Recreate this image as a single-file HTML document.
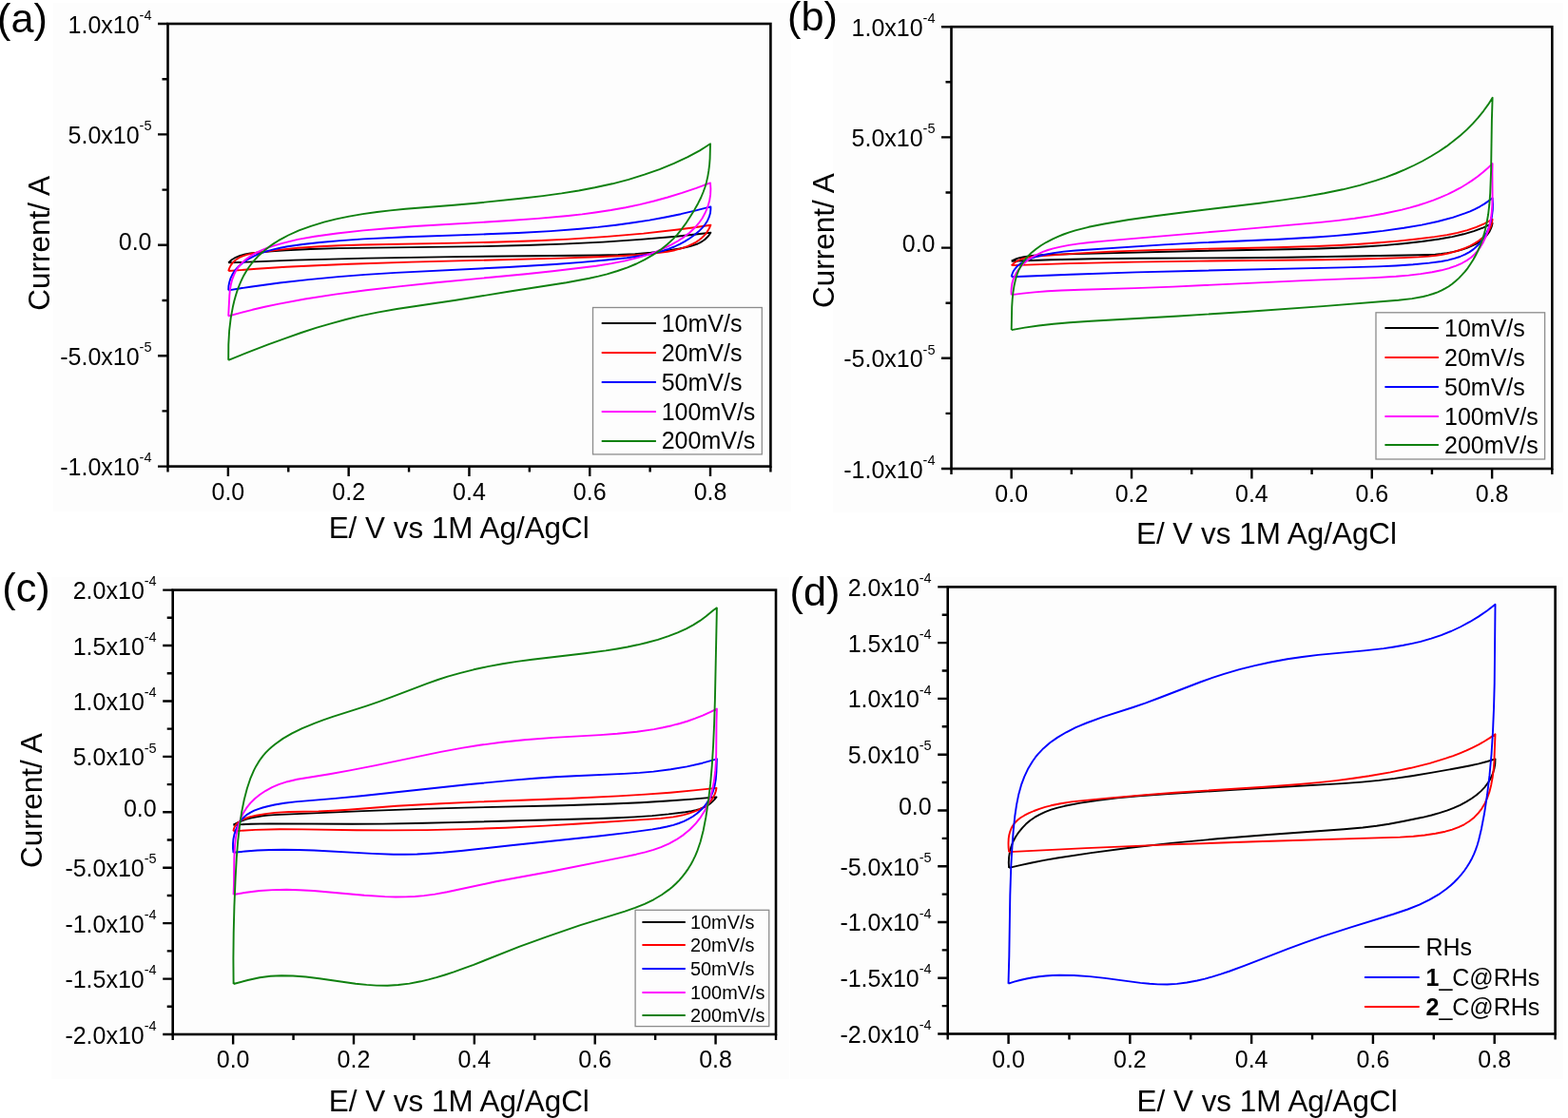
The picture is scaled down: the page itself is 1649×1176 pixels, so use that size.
<!DOCTYPE html>
<html><head><meta charset="utf-8"><title>Cyclic voltammetry</title>
<style>html,body{margin:0;padding:0;background:#fff;overflow:hidden}svg{display:block}</style>
</head><body>
<svg width="1649" height="1176" viewBox="0 0 1649 1176" font-family='"Liberation Sans", Arial, sans-serif' fill="#000">
<rect width="1649" height="1176" fill="#ffffff"/>
<rect x="56" y="3" width="776" height="535" fill="#fdfdfd"/>
<rect x="876" y="3" width="768" height="536" fill="#fdfdfd"/>
<rect x="54" y="607" width="776" height="528" fill="#fdfdfd"/>
<rect x="831" y="607" width="813" height="528" fill="#fdfdfd"/>
<path d="M240.2,276.4 243.7,273.3 247.8,270.8 252.5,268.8 257.8,267.4 263.1,266.5 271.0,265.6 285.6,264.4 300.6,263.3 326.5,262.0 355.8,261.1 507.9,259.1 552.3,258.0 592.2,256.6 634.1,254.6 673.6,251.9 711.1,248.7 747.4,244.8 745.7,247.3 743.5,249.8 741.5,251.7 739.0,253.5 736.4,255.1 733.6,256.5 730.4,257.7 726.6,258.9 721.7,260.1 714.7,261.5 699.8,264.0 684.4,265.8 667.7,267.1 650.0,268.0 629.5,268.5 476.9,270.1 385.4,271.6 309.5,273.6 240.2,276.4" stroke="#000000" stroke-width="1.9" fill="none" stroke-linejoin="round"/>
<path d="M240.2,285.0 241.2,282.1 242.7,279.1 244.5,276.6 246.9,274.2 249.6,272.2 252.5,270.5 256.0,269.1 259.7,267.9 264.3,266.8 270.3,265.8 292.8,262.9 313.6,260.8 336.0,259.3 357.2,258.2 381.6,257.5 480.4,255.6 525.7,254.5 563.3,253.2 597.7,251.6 638.5,248.9 676.7,245.6 712.9,241.5 730.4,239.2 747.4,236.7 746.1,239.8 744.5,242.6 742.7,245.3 740.4,248.0 737.8,250.4 735.1,252.6 731.8,254.8 728.3,256.7 722.8,259.1 716.4,261.4 709.6,263.2 701.9,264.7 693.7,265.9 683.9,266.9 670.1,268.1 655.3,269.0 628.3,270.3 589.5,271.6 432.4,275.6 367.4,277.7 333.1,279.2 300.7,280.8 269.9,282.8 240.2,285.0" stroke="#ff0000" stroke-width="1.9" fill="none" stroke-linejoin="round"/>
<path d="M240.2,305.4 240.4,301.0 241.2,297.0 242.3,293.2 244.1,289.3 246.2,285.7 249.1,282.2 252.3,279.0 255.9,276.1 260.0,273.2 264.8,270.6 269.8,268.2 275.3,266.0 281.1,264.1 287.5,262.4 294.7,260.8 302.5,259.3 318.3,257.0 336.2,255.0 357.9,253.1 382.1,251.4 427.6,249.2 511.8,246.3 545.1,245.0 579.1,243.1 609.9,240.7 629.0,238.9 647.7,236.7 665.5,234.3 682.9,231.6 699.8,228.5 715.9,225.2 731.9,221.4 747.4,217.4 747.4,219.9 747.0,224.0 745.8,228.2 744.0,232.2 741.7,235.8 738.6,239.6 734.9,243.3 730.5,246.9 725.3,250.7 720.3,253.9 714.8,256.8 709.1,259.5 702.9,261.9 696.6,264.0 689.7,265.9 682.4,267.5 674.5,269.0 659.4,271.2 637.6,273.5 611.5,275.9 583.4,278.0 534.5,281.0 416.2,286.9 384.3,288.9 355.7,291.1 324.3,294.1 294.1,297.5 263.2,301.7 250.1,303.7 240.2,305.4" stroke="#0000ff" stroke-width="1.9" fill="none" stroke-linejoin="round"/>
<path d="M240.2,332.5 241.3,310.9 241.9,304.7 242.8,299.5 244.2,294.1 246.0,289.3 248.2,284.7 250.8,280.8 254.2,276.8 258.1,273.2 262.8,269.8 268.4,266.4 274.1,263.6 280.2,261.1 287.6,258.6 297.0,255.9 305.0,253.8 313.1,251.9 330.8,248.7 354.3,245.5 382.2,242.4 407.5,240.2 436.0,238.0 531.5,232.3 565.4,229.9 597.6,227.0 612.2,225.4 626.0,223.5 642.5,221.0 658.1,218.2 672.9,215.1 687.7,211.5 702.3,207.5 717.3,202.9 732.2,197.9 747.0,192.4 747.4,198.5 747.1,204.9 746.1,211.3 744.3,217.5 741.8,223.5 738.6,229.5 734.9,234.7 730.5,239.8 725.2,244.7 719.6,249.1 712.9,253.5 705.6,257.6 697.3,261.6 688.9,265.1 680.0,268.3 670.5,271.1 657.4,274.4 643.3,277.1 627.0,279.7 606.2,282.3 581.1,285.2 553.1,288.2 458.2,297.3 421.6,301.1 385.1,305.3 352.3,309.6 320.8,314.5 292.1,319.9 278.4,322.8 265.5,325.8 252.7,329.1 240.2,332.5" stroke="#ff00ff" stroke-width="1.9" fill="none" stroke-linejoin="round"/>
<path d="M240.2,378.8 240.3,362.6 241.1,348.2 242.7,334.6 245.0,322.2 246.4,316.2 248.1,310.3 249.8,304.9 251.9,299.5 254.1,294.3 256.4,289.7 259.0,285.2 261.6,281.3 264.6,277.2 267.9,273.3 271.3,269.6 275.0,266.2 278.8,262.9 283.1,259.5 287.6,256.4 292.6,253.2 297.8,250.3 303.1,247.5 314.4,242.4 327.0,237.8 340.7,233.7 353.7,230.4 367.1,227.6 381.4,225.1 396.5,223.0 410.4,221.4 426.4,219.8 477.4,215.7 500.1,213.7 547.8,208.8 570.8,206.1 590.6,203.4 608.7,200.5 625.6,197.3 644.0,193.3 661.1,188.8 677.7,183.7 693.6,178.1 708.8,171.9 723.3,165.2 735.9,158.4 741.6,154.8 747.0,151.3 746.6,166.6 746.1,173.3 745.3,179.7 744.3,185.6 743.0,191.4 741.5,196.7 739.6,202.0 737.1,208.0 734.0,214.2 730.2,220.9 725.8,228.1 721.0,235.4 716.6,241.3 712.2,246.8 707.9,251.4 701.5,257.3 694.4,262.9 686.6,268.2 678.0,273.1 669.2,277.5 659.9,281.3 649.4,285.0 638.4,288.3 629.3,290.6 619.7,292.7 595.7,297.2 536.2,306.5 479.4,315.8 417.3,325.0 396.9,328.6 378.5,332.4 363.8,336.0 348.8,340.1 333.1,344.7 316.7,350.0 300.1,355.8 282.0,362.4 262.6,369.9 240.2,378.8" stroke="#0f800f" stroke-width="1.9" fill="none" stroke-linejoin="round"/>
<path d="M1063.7,274.7 1066.3,273.3 1068.9,272.2 1072.4,271.2 1076.9,270.3 1087.4,268.8 1099.6,267.9 1260.0,264.0 1381.1,261.8 1420.3,260.3 1438.2,259.3 1455.0,258.1 1475.7,256.2 1495.5,254.0 1513.4,251.5 1527.2,249.1 1539.2,246.3 1550.0,243.1 1560.1,239.3 1569.6,234.8 1568.8,238.1 1567.6,241.2 1566.2,244.0 1564.1,246.9 1561.8,249.5 1558.9,252.2 1555.6,254.5 1552.2,256.6 1547.8,258.7 1543.3,260.6 1538.3,262.3 1532.9,263.8 1527.5,265.1 1521.7,266.1 1515.9,266.9 1509.3,267.6 1501.4,268.0 1492.4,268.3 1353.0,270.7 1306.0,271.2 1199.0,271.8 1149.9,272.3 1104.7,273.3 1063.7,274.7" stroke="#000000" stroke-width="1.9" fill="none" stroke-linejoin="round"/>
<path d="M1063.7,279.1 1067.1,276.2 1071.1,273.8 1075.4,272.1 1080.7,270.9 1086.5,270.0 1096.8,269.1 1131.5,266.6 1168.2,264.6 1209.5,263.1 1250.4,262.1 1341.4,260.3 1385.0,259.0 1408.2,258.0 1429.7,256.8 1450.1,255.3 1469.6,253.6 1489.6,251.5 1508.7,249.1 1521.8,247.1 1532.8,244.9 1543.2,242.1 1552.6,238.9 1561.4,235.1 1569.6,230.7 1569.0,234.4 1568.0,237.8 1566.4,241.3 1564.3,244.6 1561.8,247.6 1558.6,250.6 1555.1,253.3 1551.0,255.9 1546.2,258.5 1541.0,260.9 1535.3,263.0 1529.2,264.9 1523.0,266.5 1516.9,267.7 1510.3,268.7 1502.9,269.6 1491.9,270.4 1476.2,271.1 1429.8,272.5 1390.6,273.2 1260.8,274.6 1192.2,275.6 1124.7,277.1 1063.7,279.1" stroke="#ff0000" stroke-width="1.9" fill="none" stroke-linejoin="round"/>
<path d="M1063.7,291.3 1064.3,288.9 1065.1,286.7 1066.1,284.7 1067.6,282.6 1069.3,280.6 1071.2,278.8 1073.3,277.2 1076.0,275.6 1081.7,272.8 1088.7,270.4 1097.9,268.0 1107.8,266.1 1118.6,264.6 1131.3,263.5 1224.0,257.4 1260.8,255.4 1344.6,251.7 1383.7,249.5 1402.9,248.1 1420.9,246.5 1438.0,244.8 1454.4,242.9 1476.4,239.8 1495.1,236.6 1511.9,233.0 1527.6,228.8 1540.6,224.4 1546.0,222.3 1551.4,219.8 1556.3,217.3 1560.8,214.6 1565.2,211.6 1569.6,208.3 1570.0,214.8 1569.8,220.9 1569.0,227.5 1567.6,233.5 1565.8,239.3 1563.4,244.9 1560.4,250.0 1557.0,254.8 1553.4,258.8 1549.7,262.1 1545.4,265.1 1540.7,267.7 1535.4,270.0 1529.5,271.9 1522.9,273.6 1515.7,275.0 1503.1,276.6 1486.0,278.3 1468.2,279.5 1448.6,280.4 1412.3,281.4 1263.1,284.7 1195.0,286.4 1125.7,288.7 1063.7,291.3" stroke="#0000ff" stroke-width="1.9" fill="none" stroke-linejoin="round"/>
<path d="M1063.7,310.1 1063.5,306.2 1063.8,302.1 1064.4,298.1 1065.5,294.2 1067.0,290.6 1068.9,286.8 1071.3,283.3 1074.0,280.0 1076.9,277.0 1080.2,274.3 1083.9,271.5 1087.9,269.1 1092.1,267.0 1096.8,264.9 1102.1,263.0 1107.6,261.4 1115.2,259.6 1124.1,257.9 1134.3,256.4 1145.9,255.0 1160.6,253.6 1290.0,242.6 1388.5,233.9 1407.5,231.9 1424.6,229.8 1440.4,227.4 1455.0,224.8 1474.3,220.6 1482.9,218.4 1491.4,216.0 1499.5,213.4 1507.4,210.6 1514.9,207.7 1522.2,204.5 1529.0,201.2 1535.6,197.7 1542.1,193.8 1548.1,189.9 1553.9,185.8 1559.5,181.3 1564.7,176.8 1569.6,172.1 1569.4,182.0 1569.6,205.8 1569.3,216.2 1568.8,222.8 1568.1,228.5 1567.2,233.7 1566.0,238.9 1564.3,244.7 1562.2,249.9 1559.8,254.9 1557.0,259.6 1554.1,263.7 1550.8,267.4 1547.2,270.7 1543.2,273.6 1537.6,276.8 1531.2,279.7 1524.0,282.1 1515.8,284.3 1506.1,286.2 1494.0,288.1 1481.5,289.6 1468.2,290.8 1446.2,292.1 1376.4,294.9 1233.6,301.6 1193.1,303.1 1136.8,304.7 1116.0,305.5 1101.6,306.3 1088.0,307.4 1075.7,308.6 1063.7,310.1" stroke="#ff00ff" stroke-width="1.9" fill="none" stroke-linejoin="round"/>
<path d="M1063.7,347.1 1064.2,322.6 1064.7,314.8 1065.4,307.8 1066.5,300.8 1067.9,294.5 1069.6,288.7 1071.7,283.5 1074.2,278.7 1077.0,274.4 1080.4,270.2 1084.6,266.0 1089.5,262.0 1094.7,258.3 1100.5,254.8 1107.2,251.3 1112.7,248.8 1118.5,246.5 1124.5,244.4 1130.9,242.3 1144.8,238.8 1161.3,235.5 1186.2,231.3 1214.5,227.2 1243.7,223.5 1324.5,213.7 1349.1,210.4 1370.8,207.1 1392.7,203.3 1412.1,199.3 1430.2,194.9 1447.0,189.9 1457.6,186.3 1467.7,182.5 1477.4,178.4 1486.9,174.0 1495.9,169.5 1504.7,164.5 1513.3,159.3 1521.3,153.9 1528.6,148.3 1535.8,142.5 1542.6,136.4 1548.8,130.1 1554.6,123.6 1560.1,116.8 1565.1,109.9 1569.6,102.8 1568.9,125.9 1568.1,179.2 1567.2,203.1 1566.3,215.2 1565.1,225.5 1563.4,235.2 1561.4,244.1 1558.2,254.4 1556.3,259.2 1554.2,264.0 1551.8,268.7 1549.3,273.3 1546.4,277.8 1543.7,281.8 1540.7,285.6 1537.5,289.2 1534.2,292.6 1530.7,295.8 1527.1,298.7 1523.6,301.2 1519.9,303.4 1516.2,305.4 1511.9,307.3 1507.2,309.0 1502.0,310.6 1496.7,312.0 1485.0,314.1 1470.6,315.7 1391.2,322.1 1309.5,328.0 1239.3,332.5 1147.3,337.7 1125.0,339.2 1107.9,340.7 1092.4,342.5 1077.6,344.6 1063.7,347.1" stroke="#0f800f" stroke-width="1.9" fill="none" stroke-linejoin="round"/>
<path d="M245.4,867.7 249.8,865.4 254.6,863.4 259.4,861.7 264.4,860.3 269.8,859.2 275.6,858.3 281.9,857.6 289.0,857.1 382.0,853.1 443.5,850.9 488.4,849.6 592.0,847.2 644.0,845.5 673.6,844.2 701.5,842.5 727.9,840.6 753.5,838.4 751.5,840.9 749.1,843.4 746.9,845.3 744.3,847.1 741.6,848.7 738.7,850.0 735.5,851.1 731.8,852.2 727.2,853.1 720.7,854.2 703.1,856.4 685.8,858.1 667.1,859.4 649.4,860.3 628.9,861.0 483.8,864.9 437.5,866.0 402.4,866.6 370.4,866.8 284.0,866.4 263.5,866.8 245.4,867.7" stroke="#000000" stroke-width="1.9" fill="none" stroke-linejoin="round"/>
<path d="M245.4,874.3 245.8,872.4 246.5,870.3 247.4,868.7 248.7,866.9 250.2,865.4 252.0,864.0 254.2,862.7 256.6,861.5 262.2,859.4 269.5,857.7 278.9,856.1 289.0,854.9 304.4,854.0 334.9,853.4 350.4,852.7 366.4,851.7 417.3,847.8 463.7,845.2 504.1,843.4 601.0,839.8 650.2,837.4 678.6,835.6 704.9,833.7 729.6,831.4 753.5,828.9 752.8,832.3 751.7,835.4 750.2,838.4 748.4,841.3 746.4,843.8 744.0,846.0 741.1,848.2 738.0,850.1 734.0,852.1 729.5,853.9 724.5,855.6 719.2,857.1 713.8,858.3 708.0,859.4 695.2,860.9 604.9,866.7 573.6,868.6 531.4,870.7 490.6,872.1 449.0,873.1 408.7,873.4 375.1,873.3 318.0,872.4 294.3,872.3 268.7,872.9 245.4,874.3" stroke="#ff0000" stroke-width="1.9" fill="none" stroke-linejoin="round"/>
<path d="M245.5,896.8 245.0,892.6 245.0,887.7 245.4,882.8 246.4,877.9 247.9,873.2 249.7,869.0 251.9,865.2 254.5,861.7 257.2,859.0 260.2,856.6 263.5,854.6 267.3,852.7 271.4,851.1 276.3,849.5 282.2,848.0 288.8,846.5 299.1,844.8 310.6,843.4 352.3,839.9 379.9,837.3 493.7,825.0 539.7,820.6 562.4,818.7 583.9,817.2 603.9,816.2 656.3,813.9 672.6,812.9 687.2,811.6 705.4,809.3 722.4,806.4 738.6,802.7 753.9,798.3 753.4,811.9 752.8,819.6 751.6,826.6 749.8,832.7 748.5,835.9 746.9,839.1 743.1,845.1 741.0,847.9 738.4,850.8 735.8,853.2 732.9,855.7 728.8,858.7 724.2,861.4 719.3,863.8 713.8,866.0 708.1,867.8 701.4,869.5 694.2,871.0 686.1,872.4 660.5,875.9 629.5,879.5 537.2,889.2 485.0,895.0 465.8,896.8 451.8,897.8 438.6,898.5 426.2,898.8 413.8,898.7 391.4,897.9 330.2,894.5 313.4,894.0 298.2,893.8 284.2,894.0 270.6,894.5 257.9,895.5 245.5,896.8" stroke="#0000ff" stroke-width="1.9" fill="none" stroke-linejoin="round"/>
<path d="M245.6,941.0 246.0,929.9 246.3,902.4 247.1,888.6 248.0,880.9 249.4,873.6 251.1,867.0 253.2,860.9 255.9,855.2 259.2,849.9 263.4,844.7 268.1,840.0 273.4,835.8 279.4,831.8 286.1,828.2 293.1,825.2 302.2,822.2 312.6,819.8 346.6,814.2 367.9,810.4 394.9,805.1 463.6,790.9 485.2,786.9 504.5,783.8 527.3,780.8 551.4,778.3 582.1,775.9 631.1,773.1 649.2,771.8 669.6,769.7 687.8,767.1 697.2,765.3 706.5,763.2 715.0,761.0 723.3,758.5 731.2,755.7 739.0,752.7 746.7,749.2 753.9,745.6 753.5,758.6 753.2,792.7 752.8,802.4 752.2,810.9 751.0,821.0 749.4,829.7 747.3,837.9 744.9,845.0 743.1,849.0 741.3,852.6 736.9,859.6 731.8,866.2 725.6,872.5 718.9,878.1 711.3,883.2 703.7,887.4 695.1,891.1 687.3,893.9 678.6,896.3 669.0,898.7 655.2,901.6 580.5,916.5 521.6,927.3 470.3,938.3 457.3,940.6 445.9,942.1 436.4,943.0 426.6,943.4 416.2,943.5 404.7,943.1 383.1,941.7 329.7,937.0 314.8,936.2 301.2,935.8 286.8,936.1 272.8,937.0 259.0,938.7 245.6,941.0" stroke="#ff00ff" stroke-width="1.9" fill="none" stroke-linejoin="round"/>
<path d="M245.6,1035.0 245.4,1008.4 245.7,981.2 246.4,953.3 247.6,924.2 248.8,902.4 250.2,884.8 252.0,868.9 254.1,854.5 256.8,841.0 259.8,829.5 263.2,819.2 267.1,810.1 269.3,805.9 271.7,801.9 274.1,798.3 276.7,794.9 279.5,791.7 282.5,788.6 285.7,785.7 289.4,782.7 297.6,776.9 307.1,771.4 317.8,766.2 330.6,760.9 339.9,757.4 350.0,753.9 385.3,742.6 398.4,738.1 412.0,733.2 449.5,718.9 460.5,715.0 470.8,711.7 484.3,707.8 498.2,704.3 512.9,701.1 528.5,698.3 543.5,695.9 559.7,693.7 615.1,687.3 637.1,684.4 649.0,682.5 660.0,680.5 670.5,678.3 680.1,676.0 691.9,672.8 703.0,669.2 712.8,665.4 721.7,661.3 729.1,657.4 736.2,652.9 742.2,648.5 750.7,641.5 753.9,639.4 751.9,736.3 751.1,761.8 750.1,783.8 748.8,804.9 747.1,824.4 744.9,842.8 742.3,859.9 739.6,873.8 736.6,885.5 733.1,895.7 731.1,900.4 729.0,904.7 726.6,909.2 723.9,913.6 720.9,917.9 717.8,921.9 714.4,925.8 710.8,929.5 707.3,932.7 703.4,935.9 695.9,941.2 687.4,946.3 678.0,950.8 667.9,954.9 657.2,958.6 630.6,966.8 610.4,973.2 574.9,985.3 546.5,995.7 498.1,1014.8 477.3,1022.4 467.8,1025.5 459.0,1028.2 450.6,1030.4 442.5,1032.3 430.5,1034.6 418.8,1036.0 407.4,1036.7 396.0,1036.6 385.6,1035.9 374.0,1034.7 335.7,1029.3 321.7,1027.5 308.0,1026.5 296.0,1026.2 284.5,1026.8 273.1,1028.3 260.6,1031.0 245.6,1035.0" stroke="#0f800f" stroke-width="1.9" fill="none" stroke-linejoin="round"/>
<path d="M1061.1,912.9 1060.8,907.4 1061.1,901.6 1062.0,896.0 1063.4,890.6 1065.4,885.4 1068.1,880.2 1071.4,875.3 1075.1,870.8 1078.9,866.8 1083.4,863.0 1088.2,859.7 1093.3,856.8 1099.0,854.1 1105.4,851.7 1112.3,849.6 1119.7,847.8 1136.1,844.6 1155.3,841.7 1175.2,839.4 1197.5,837.3 1225.3,835.3 1297.6,830.7 1412.0,824.1 1432.3,822.6 1450.2,820.9 1466.5,818.9 1484.7,816.2 1504.8,812.9 1533.5,807.8 1545.3,805.5 1555.0,803.4 1564.0,801.0 1572.5,798.4 1572.3,803.5 1571.4,808.8 1569.9,813.7 1567.7,818.7 1564.9,823.4 1561.6,827.8 1557.5,832.1 1553.1,836.0 1547.9,839.8 1542.0,843.4 1535.6,846.8 1528.7,849.9 1521.6,852.6 1513.8,855.2 1505.5,857.5 1495.9,859.8 1476.5,863.8 1460.7,866.8 1447.6,868.8 1433.2,870.5 1413.4,872.3 1334.2,878.0 1280.7,882.3 1231.4,886.9 1186.2,892.0 1147.5,897.1 1112.0,902.5 1098.2,904.9 1085.1,907.5 1072.9,910.1 1061.1,912.9" stroke="#000000" stroke-width="1.9" fill="none" stroke-linejoin="round"/>
<path d="M1061.1,896.1 1060.6,891.3 1060.5,886.8 1060.7,882.2 1061.3,878.2 1062.4,874.3 1063.7,871.0 1065.4,868.0 1067.5,865.2 1070.3,862.5 1073.5,860.0 1077.4,857.7 1081.8,855.4 1087.4,853.0 1093.1,850.8 1099.2,848.9 1105.3,847.3 1115.3,845.2 1126.9,843.4 1139.1,842.1 1167.1,839.4 1204.4,836.1 1235.8,833.7 1329.6,827.8 1366.2,825.0 1386.4,823.1 1405.0,821.1 1422.8,818.8 1439.8,816.3 1462.2,812.4 1483.7,807.8 1503.7,802.8 1520.6,797.7 1528.2,795.1 1535.3,792.3 1542.3,789.4 1548.8,786.3 1555.2,783.1 1561.1,779.7 1566.9,776.1 1572.5,772.3 1571.4,800.7 1570.7,809.7 1569.7,817.5 1568.2,825.7 1566.4,832.9 1564.1,839.4 1561.5,845.2 1558.3,850.6 1554.8,855.2 1550.5,859.7 1545.4,863.8 1539.8,867.3 1533.8,870.2 1527.2,872.7 1519.9,874.7 1509.8,876.8 1498.3,878.5 1486.4,879.7 1472.3,880.6 1320.1,885.3 1230.2,888.4 1142.0,892.1 1061.1,896.1" stroke="#ff0000" stroke-width="1.9" fill="none" stroke-linejoin="round"/>
<path d="M1060.5,1034.7 1061.3,1006.1 1062.3,941.5 1063.3,910.8 1064.4,891.6 1065.7,873.9 1067.3,858.5 1069.1,846.4 1071.3,835.4 1074.0,825.7 1077.3,816.8 1081.4,808.2 1086.1,800.5 1088.8,796.7 1091.5,793.4 1097.4,787.2 1104.2,781.3 1112.3,775.6 1121.3,770.3 1131.4,765.2 1142.6,760.5 1160.0,754.2 1191.6,744.0 1204.4,739.6 1219.4,734.0 1262.2,717.5 1275.1,712.9 1287.4,708.9 1303.5,704.2 1319.7,700.1 1336.3,696.5 1353.9,693.3 1369.6,691.0 1386.3,688.9 1434.8,684.4 1455.2,682.1 1465.9,680.5 1475.8,678.8 1485.2,676.9 1494.1,674.8 1505.2,671.6 1515.7,668.1 1526.0,664.0 1535.7,659.5 1545.6,654.2 1554.8,648.6 1563.8,642.5 1572.5,635.8 1571.7,719.0 1571.0,745.5 1570.0,769.5 1568.5,793.5 1566.5,815.4 1564.0,836.0 1561.0,855.8 1557.9,872.0 1555.1,883.7 1553.6,889.0 1551.9,893.9 1550.1,898.3 1548.1,902.7 1545.6,907.2 1542.8,911.7 1539.9,916.0 1536.6,920.1 1533.2,924.0 1529.3,928.0 1525.5,931.5 1521.2,935.0 1512.9,940.9 1503.4,946.4 1492.7,951.6 1480.5,956.5 1465.6,961.5 1421.5,975.1 1390.4,985.2 1371.9,991.6 1354.3,998.1 1309.2,1015.6 1293.3,1021.5 1283.9,1024.7 1275.1,1027.4 1267.1,1029.6 1259.0,1031.5 1248.2,1033.5 1237.7,1034.9 1227.5,1035.5 1217.7,1035.4 1208.9,1034.8 1199.4,1033.9 1162.0,1028.9 1145.9,1027.1 1129.4,1026.0 1114.2,1025.8 1107.0,1026.0 1099.8,1026.5 1092.7,1027.2 1086.1,1028.2 1079.4,1029.5 1072.8,1031.0 1066.6,1032.7 1060.5,1034.7" stroke="#0000ff" stroke-width="1.9" fill="none" stroke-linejoin="round"/>
<rect x="176.5" y="25" width="633.9" height="465.6" fill="none" stroke="#000" stroke-width="2.6"/>
<path d="M176.5,490.6V496.6M239.89,490.6V501.1M303.28,490.6V496.6M366.67,490.6V501.1M430.06,490.6V496.6M493.45,490.6V501.1M556.84,490.6V496.6M620.23,490.6V501.1M683.62,490.6V496.6M747.01,490.6V501.1M810.4,490.6V496.6M176.5,490.6H166M176.5,432.4H170.5M176.5,374.2H166M176.5,316H170.5M176.5,257.8H166M176.5,199.6H170.5M176.5,141.4H166M176.5,83.2H170.5M176.5,25H166" stroke="#000" stroke-width="2.4" fill="none"/>
<text x="239.89" y="525.6" text-anchor="middle" font-size="25">0.0</text>
<text x="366.67" y="525.6" text-anchor="middle" font-size="25">0.2</text>
<text x="493.45" y="525.6" text-anchor="middle" font-size="25">0.4</text>
<text x="620.23" y="525.6" text-anchor="middle" font-size="25">0.6</text>
<text x="747.01" y="525.6" text-anchor="middle" font-size="25">0.8</text>
<text x="159.5" y="500.1" text-anchor="end" font-size="25">-1.0x10<tspan font-size="14.5" dy="-13.8">-4</tspan></text>
<text x="159.5" y="383.7" text-anchor="end" font-size="25">-5.0x10<tspan font-size="14.5" dy="-13.8">-5</tspan></text>
<text x="159.5" y="262.6" text-anchor="end" font-size="25">0.0</text>
<text x="159.5" y="150.9" text-anchor="end" font-size="25">5.0x10<tspan font-size="14.5" dy="-13.8">-5</tspan></text>
<text x="159.5" y="34.5" text-anchor="end" font-size="25">1.0x10<tspan font-size="14.5" dy="-13.8">-4</tspan></text>
<rect x="1000.5" y="28.2" width="631.8" height="464.8" fill="none" stroke="#000" stroke-width="2.6"/>
<path d="M1000.5,493V499M1063.68,493V503.5M1126.86,493V499M1190.04,493V503.5M1253.22,493V499M1316.4,493V503.5M1379.58,493V499M1442.76,493V503.5M1505.94,493V499M1569.12,493V503.5M1632.3,493V499M1000.5,493H990M1000.5,434.9H994.5M1000.5,376.8H990M1000.5,318.7H994.5M1000.5,260.6H990M1000.5,202.5H994.5M1000.5,144.4H990M1000.5,86.3H994.5M1000.5,28.2H990" stroke="#000" stroke-width="2.4" fill="none"/>
<text x="1063.68" y="528" text-anchor="middle" font-size="25">0.0</text>
<text x="1190.04" y="528" text-anchor="middle" font-size="25">0.2</text>
<text x="1316.4" y="528" text-anchor="middle" font-size="25">0.4</text>
<text x="1442.76" y="528" text-anchor="middle" font-size="25">0.6</text>
<text x="1569.12" y="528" text-anchor="middle" font-size="25">0.8</text>
<text x="983.5" y="502.5" text-anchor="end" font-size="25">-1.0x10<tspan font-size="14.5" dy="-13.8">-4</tspan></text>
<text x="983.5" y="386.3" text-anchor="end" font-size="25">-5.0x10<tspan font-size="14.5" dy="-13.8">-5</tspan></text>
<text x="983.5" y="265.4" text-anchor="end" font-size="25">0.0</text>
<text x="983.5" y="153.9" text-anchor="end" font-size="25">5.0x10<tspan font-size="14.5" dy="-13.8">-5</tspan></text>
<text x="983.5" y="37.7" text-anchor="end" font-size="25">1.0x10<tspan font-size="14.5" dy="-13.8">-4</tspan></text>
<rect x="181.7" y="620.6" width="634.3" height="467.4" fill="none" stroke="#000" stroke-width="2.6"/>
<path d="M181.7,1088V1094M245.13,1088V1098.5M308.56,1088V1094M371.99,1088V1098.5M435.42,1088V1094M498.85,1088V1098.5M562.28,1088V1094M625.71,1088V1098.5M689.14,1088V1094M752.57,1088V1098.5M816,1088V1094M181.7,1088H171.2M181.7,1058.79H175.7M181.7,1029.58H171.2M181.7,1000.36H175.7M181.7,971.15H171.2M181.7,941.94H175.7M181.7,912.73H171.2M181.7,883.51H175.7M181.7,854.3H171.2M181.7,825.09H175.7M181.7,795.88H171.2M181.7,766.66H175.7M181.7,737.45H171.2M181.7,708.24H175.7M181.7,679.03H171.2M181.7,649.81H175.7M181.7,620.6H171.2" stroke="#000" stroke-width="2.4" fill="none"/>
<text x="245.13" y="1123" text-anchor="middle" font-size="25">0.0</text>
<text x="371.99" y="1123" text-anchor="middle" font-size="25">0.2</text>
<text x="498.85" y="1123" text-anchor="middle" font-size="25">0.4</text>
<text x="625.71" y="1123" text-anchor="middle" font-size="25">0.6</text>
<text x="752.57" y="1123" text-anchor="middle" font-size="25">0.8</text>
<text x="164.7" y="1097.5" text-anchor="end" font-size="25">-2.0x10<tspan font-size="14.5" dy="-13.8">-4</tspan></text>
<text x="164.7" y="1039.08" text-anchor="end" font-size="25">-1.5x10<tspan font-size="14.5" dy="-13.8">-4</tspan></text>
<text x="164.7" y="980.65" text-anchor="end" font-size="25">-1.0x10<tspan font-size="14.5" dy="-13.8">-4</tspan></text>
<text x="164.7" y="922.23" text-anchor="end" font-size="25">-5.0x10<tspan font-size="14.5" dy="-13.8">-5</tspan></text>
<text x="164.7" y="859.1" text-anchor="end" font-size="25">0.0</text>
<text x="164.7" y="805.38" text-anchor="end" font-size="25">5.0x10<tspan font-size="14.5" dy="-13.8">-5</tspan></text>
<text x="164.7" y="746.95" text-anchor="end" font-size="25">1.0x10<tspan font-size="14.5" dy="-13.8">-4</tspan></text>
<text x="164.7" y="688.53" text-anchor="end" font-size="25">1.5x10<tspan font-size="14.5" dy="-13.8">-4</tspan></text>
<text x="164.7" y="630.1" text-anchor="end" font-size="25">2.0x10<tspan font-size="14.5" dy="-13.8">-4</tspan></text>
<rect x="996.7" y="617.4" width="638.9" height="470.1" fill="none" stroke="#000" stroke-width="2.6"/>
<path d="M996.7,1087.5V1093.5M1060.59,1087.5V1098M1124.48,1087.5V1093.5M1188.37,1087.5V1098M1252.26,1087.5V1093.5M1316.15,1087.5V1098M1380.04,1087.5V1093.5M1443.93,1087.5V1098M1507.82,1087.5V1093.5M1571.71,1087.5V1098M1635.6,1087.5V1093.5M996.7,1087.5H986.2M996.7,1058.12H990.7M996.7,1028.74H986.2M996.7,999.36H990.7M996.7,969.98H986.2M996.7,940.59H990.7M996.7,911.21H986.2M996.7,881.83H990.7M996.7,852.45H986.2M996.7,823.07H990.7M996.7,793.69H986.2M996.7,764.31H990.7M996.7,734.92H986.2M996.7,705.54H990.7M996.7,676.16H986.2M996.7,646.78H990.7M996.7,617.4H986.2" stroke="#000" stroke-width="2.4" fill="none"/>
<text x="1060.59" y="1122.5" text-anchor="middle" font-size="25">0.0</text>
<text x="1188.37" y="1122.5" text-anchor="middle" font-size="25">0.2</text>
<text x="1316.15" y="1122.5" text-anchor="middle" font-size="25">0.4</text>
<text x="1443.93" y="1122.5" text-anchor="middle" font-size="25">0.6</text>
<text x="1571.71" y="1122.5" text-anchor="middle" font-size="25">0.8</text>
<text x="979.7" y="1097" text-anchor="end" font-size="25">-2.0x10<tspan font-size="14.5" dy="-13.8">-4</tspan></text>
<text x="979.7" y="1038.24" text-anchor="end" font-size="25">-1.5x10<tspan font-size="14.5" dy="-13.8">-4</tspan></text>
<text x="979.7" y="979.48" text-anchor="end" font-size="25">-1.0x10<tspan font-size="14.5" dy="-13.8">-4</tspan></text>
<text x="979.7" y="920.71" text-anchor="end" font-size="25">-5.0x10<tspan font-size="14.5" dy="-13.8">-5</tspan></text>
<text x="979.7" y="857.25" text-anchor="end" font-size="25">0.0</text>
<text x="979.7" y="803.19" text-anchor="end" font-size="25">5.0x10<tspan font-size="14.5" dy="-13.8">-5</tspan></text>
<text x="979.7" y="744.42" text-anchor="end" font-size="25">1.0x10<tspan font-size="14.5" dy="-13.8">-4</tspan></text>
<text x="979.7" y="685.66" text-anchor="end" font-size="25">1.5x10<tspan font-size="14.5" dy="-13.8">-4</tspan></text>
<text x="979.7" y="626.9" text-anchor="end" font-size="25">2.0x10<tspan font-size="14.5" dy="-13.8">-4</tspan></text>
<rect x="623.5" y="323.5" width="177.8" height="154.4" fill="none" stroke="#8c8c8c" stroke-width="1.3"/>
<path d="M632.7,340H689.9" stroke="#000000" stroke-width="2"/>
<text x="695.7" y="348.68" font-size="25">10mV/s</text>
<path d="M632.7,371H689.9" stroke="#ff0000" stroke-width="2"/>
<text x="695.7" y="379.77" font-size="25">20mV/s</text>
<path d="M632.7,402H689.9" stroke="#0000ff" stroke-width="2"/>
<text x="695.7" y="410.68" font-size="25">50mV/s</text>
<path d="M632.7,433H689.9" stroke="#ff00ff" stroke-width="2"/>
<text x="695.7" y="441.68" font-size="25">100mV/s</text>
<path d="M632.7,464H689.9" stroke="#0f800f" stroke-width="2"/>
<text x="695.7" y="472.38" font-size="25">200mV/s</text>
<rect x="1447" y="328.8" width="177.6" height="154.2" fill="none" stroke="#8c8c8c" stroke-width="1.3"/>
<path d="M1456.4,345H1512.9" stroke="#000000" stroke-width="2"/>
<text x="1519" y="354.27" font-size="25">10mV/s</text>
<path d="M1456.4,376H1512.9" stroke="#ff0000" stroke-width="2"/>
<text x="1519" y="385.18" font-size="25">20mV/s</text>
<path d="M1456.4,407H1512.9" stroke="#0000ff" stroke-width="2"/>
<text x="1519" y="416.18" font-size="25">50mV/s</text>
<path d="M1456.4,438H1512.9" stroke="#ff00ff" stroke-width="2"/>
<text x="1519" y="446.88" font-size="25">100mV/s</text>
<path d="M1456.4,468H1512.9" stroke="#0f800f" stroke-width="2"/>
<text x="1519" y="477.27" font-size="25">200mV/s</text>
<rect x="668.1" y="957.3" width="140.65" height="122.3" fill="none" stroke="#8c8c8c" stroke-width="1.3"/>
<path d="M675.4,970H720.8" stroke="#000000" stroke-width="2"/>
<text transform="translate(726,977.12) scale(1.02,1)" font-size="19.5">10mV/s</text>
<path d="M675.4,994H720.8" stroke="#ff0000" stroke-width="2"/>
<text transform="translate(726,1001.32) scale(1.02,1)" font-size="19.5">20mV/s</text>
<path d="M675.4,1019H720.8" stroke="#0000ff" stroke-width="2"/>
<text transform="translate(726,1026.32) scale(1.02,1)" font-size="19.5">50mV/s</text>
<path d="M675.4,1044H720.8" stroke="#ff00ff" stroke-width="2"/>
<text transform="translate(726,1050.67) scale(1.02,1)" font-size="19.5">100mV/s</text>
<path d="M675.4,1068H720.8" stroke="#0f800f" stroke-width="2"/>
<text transform="translate(726,1075.22) scale(1.02,1)" font-size="19.5">200mV/s</text>
<path d="M1435,996H1492.7" stroke="#000000" stroke-width="2"/>
<text x="1499.5" y="1005.38" font-size="25">RHs</text>
<path d="M1435,1028H1492.7" stroke="#0000ff" stroke-width="2"/>
<text x="1499.5" y="1036.58" font-size="25"><tspan font-weight="bold">1</tspan>_C@RHs</text>
<path d="M1435,1059H1492.7" stroke="#ff0000" stroke-width="2"/>
<text x="1499.5" y="1067.62" font-size="25"><tspan font-weight="bold">2</tspan>_C@RHs</text>
<text transform="translate(482.7,566) scale(1.03,1)" text-anchor="middle" font-size="30.5">E/ V vs 1M Ag/AgCl</text>
<text transform="translate(1332,571.7) scale(1.03,1)" text-anchor="middle" font-size="30.5">E/ V vs 1M Ag/AgCl</text>
<text transform="translate(482.8,1168.5) scale(1.03,1)" text-anchor="middle" font-size="30.5">E/ V vs 1M Ag/AgCl</text>
<text transform="translate(1332.6,1168.5) scale(1.03,1)" text-anchor="middle" font-size="30.5">E/ V vs 1M Ag/AgCl</text>
<text transform="translate(51.8,255.9) rotate(-90)" text-anchor="middle" font-size="31.5">Current/ A</text>
<text transform="translate(877.2,253.15) rotate(-90)" text-anchor="middle" font-size="31.5">Current/ A</text>
<text transform="translate(44.1,842.1) rotate(-90)" text-anchor="middle" font-size="31.5">Current/ A</text>
<text transform="translate(-3,33.7) scale(1.03,1)" font-size="42">(a)</text>
<text transform="translate(828,31.8) scale(1.03,1)" font-size="42">(b)</text>
<text transform="translate(2.3,633.1) scale(1.03,1)" font-size="42">(c)</text>
<text transform="translate(830.5,637.3) scale(1.03,1)" font-size="42">(d)</text>
</svg>
</body></html>
